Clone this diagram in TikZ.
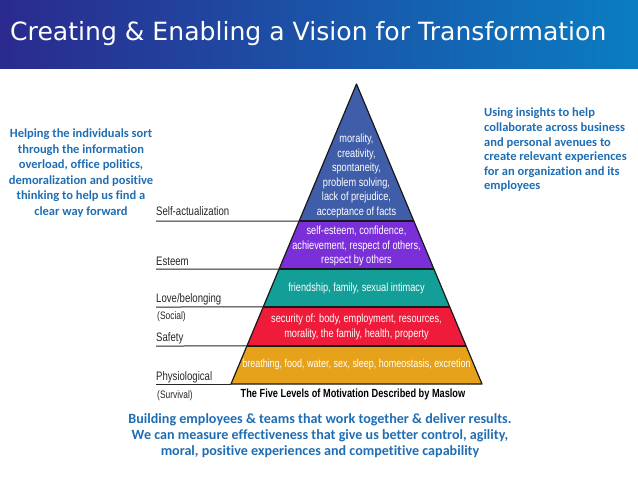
\documentclass[tikz,border=0pt]{standalone}
\usepackage{fontspec}
\setmainfont{Liberation Sans}
\newfontfamily\titlefont{DejaVu Sans}
\newfontfamily\bodyfont[Ligatures={NoCommon,NoDiscretionary}]{Carlito}
\newfontfamily\condfont[FakeStretch=0.78]{Liberation Sans}
\usetikzlibrary{calc}
\definecolor{txtblue}{HTML}{1F6DB3}
\definecolor{hdrdark}{HTML}{2B2A8E}
\definecolor{hdrmid}{HTML}{0B6CB6}
\definecolor{hdrright}{HTML}{0A7DC2}
\definecolor{lvblue}{HTML}{3F5DA8}
\definecolor{lvpurple}{HTML}{7B2FD8}
\definecolor{lvteal}{HTML}{139E98}
\definecolor{lvred}{HTML}{EE1B3A}
\definecolor{lvorange}{HTML}{E7A21B}
\tikzset{
  sidetext/.style={text=txtblue, font=\bodyfont\bfseries\fontsize{12.5}{15.5}\selectfont, inner sep=0pt},
  leveltext/.style={text=white, font=\condfont\fontsize{11.8}{14.5}\selectfont, align=center, inner sep=0pt},
  levellabel/.style={anchor=base west, font=\condfont\fontsize{12.3}{14}\selectfont, inner sep=0pt, text=black!85},
  levelline/.style={draw=black!85, line width=1pt},
  layer/.style={draw=black!90, line width=1.2pt, line join=round}
}
\begin{document}
\begin{tikzpicture}[x=1pt,y=-1pt]
\useasboundingbox (0,0) rectangle (638,479);
\shade[left color=hdrdark, middle color=hdrmid, right color=hdrright] (0,0) rectangle (638,68);
\node[anchor=west, text=white, font=\titlefont\fontsize{25.1}{29}\selectfont, inner sep=0pt] (title) at (10,34) {Creating \& Enabling a Vision for Transformation};

% pyramid geometry
\coordinate (apex) at (356.5,84);
\coordinate (bl) at (231,384);
\coordinate (br) at (482,384);
\foreach \n/\t in {a/0.4567, b/0.6167, c/0.7433, d/0.8733}{
  \coordinate (l\n) at ($(apex)!\t!(bl)$);
  \coordinate (r\n) at ($(apex)!\t!(br)$);
}
\fill[lvblue] (apex) -- (ra) -- (la) -- cycle;
\fill[lvpurple] (la) -- (ra) -- (rb) -- (lb) -- cycle;
\fill[lvteal] (lb) -- (rb) -- (rc) -- (lc) -- cycle;
\fill[lvred] (lc) -- (rc) -- (rd) -- (ld) -- cycle;
\fill[lvorange] (ld) -- (rd) -- (br) -- (bl) -- cycle;
\draw[layer] (apex) -- (br) -- (bl) -- cycle;
\draw[layer] (la) -- (ra) (lb) -- (rb) (lc) -- (rc) (ld) -- (rd);

% left lines
\coordinate (sa) at (156,221);
\coordinate (se) at (156,269);
\coordinate (sl) at (156,307);
\coordinate (ss) at (156,346);
\coordinate (sp) at (156,384);
\draw[levelline] (sa) -- (la);
\draw[levelline] (se) -- (lb);
\draw[levelline] (sl) -- (lc);
\draw[levelline] (ss) -- (ld);
\draw[levelline] (sp) -- (bl);

\node[levellabel] (n1) at (156,215) {Self-actualization};
\node[levellabel] (n2) at (156,265) {Esteem};
\node[levellabel] (n3) at (156,302) {Love/belonging};
\node[levellabel, font=\condfont\fontsize{10.8}{12}\selectfont] (n3b) at (157,319) {(Social)};
\node[levellabel] (n4) at (156,341) {Safety};
\node[levellabel] (n5) at (156,380) {Physiological};
\node[levellabel, font=\condfont\fontsize{10.8}{12}\selectfont] (n5b) at (157,398) {(Survival)};

% level texts
\node[leveltext] (t1) at (356.5,176) {morality,\\creativity,\\spontaneity,\\problem solving,\\lack of prejudice,\\acceptance of facts};
\node[leveltext] (t2) at (356.5,246) {self-esteem, confidence,\\achievement, respect of others,\\respect by others};
\node[leveltext] (t3) at (356.5,288) {friendship, family, sexual intimacy};
\node[leveltext] (t4) at (356.5,327) {security of: body, employment, resources,\\morality, the family, health, property};
\node[leveltext, font=\condfont\fontsize{11.5}{14.5}\selectfont] (t5) at (356.5,365) {breathing, food, water, sex, sleep, homeostasis, excretion};
\node[font=\bfseries\condfont\fontsize{11.8}{13}\selectfont, inner sep=0pt] (cap) at (353,394) {The Five Levels of Motivation Described by Maslow};

% side texts
\node[sidetext, align=center] (left) at (81,173) {Helping the individuals sort\\through the information\\overload, office politics,\\demoralization and positive\\thinking to help us find a\\clear way forward};
\node[sidetext, align=left, anchor=west, font=\bodyfont\bfseries\fontsize{12.5}{14.6}\selectfont] (right) at (484,150) {Using insights to help\\collaborate across business\\and personal avenues to\\create relevant experiences\\for an organization and its\\employees};
\node[sidetext, align=center, font=\bodyfont\bfseries\fontsize{14.1}{16}\selectfont] (bottom) at (320,436) {Building employees \& teams that work together \& deliver results.\\We can measure effectiveness that give us better control, agility,\\moral, positive experiences and competitive capability};
\end{tikzpicture}
\end{document}
